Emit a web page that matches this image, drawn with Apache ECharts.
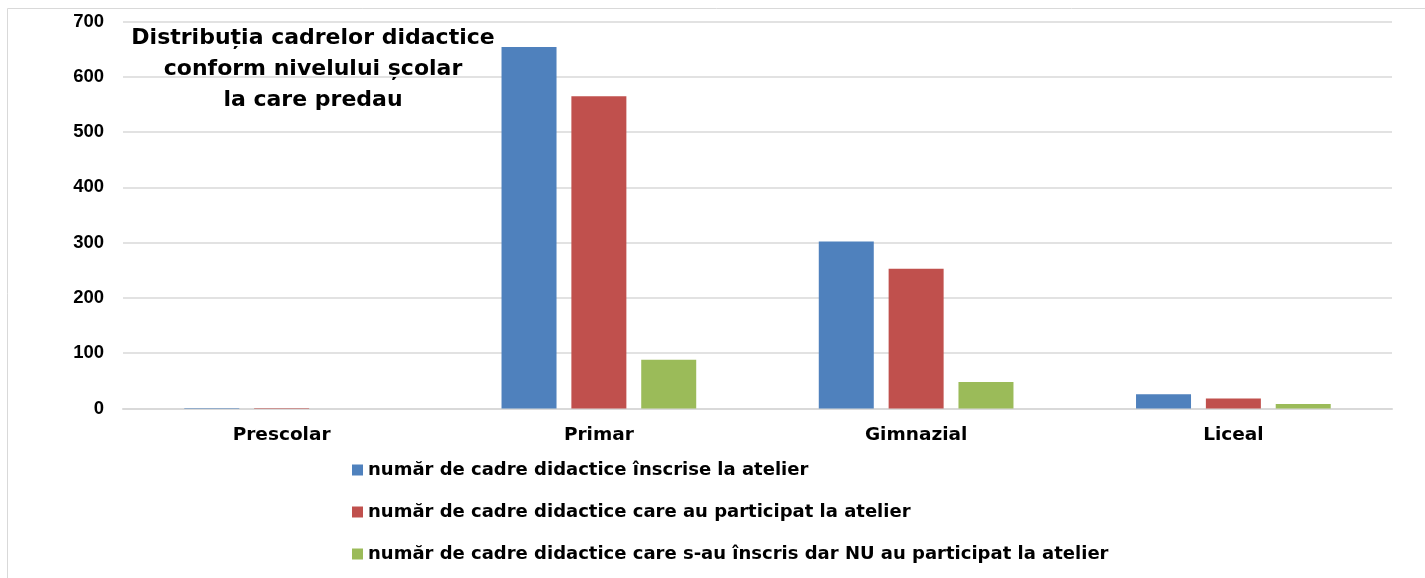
<!DOCTYPE html>
<html>
<head>
<meta charset="utf-8">
<script src="https://cdn.jsdelivr.net/npm/echarts@6/dist/echarts.min.js"></script>
<style>
    body { margin: 0; background: #fff; }
    #main { width: 1425px; height: 578px; }
</style>
</head>
<body>
<div id="main"></div>
<script>
const categories = ['Prescolar', 'Primar', 'Gimnazial', 'Liceal']
const inscrise = [1, 654, 302, 26]
const participat = [1, 565, 253, 18]
const neparticipat = [0, 88, 48, 8]
const seriesNames = [
    'număr de cadre didactice înscrise la atelier',
    'număr de cadre didactice care au participat la atelier',
    'număr de cadre didactice care s-au înscris dar NU au participat la atelier',
]
const colors = ['#4F81BD', '#C0504D', '#9BBB59']

const font = 'DejaVu Sans, Arial, sans-serif'
const numFont = 'Liberation Sans, Arial, sans-serif'

const bar = (name, data, color) => ({
    name: name,
    type: 'bar',
    data: data,
    barWidth: 55,
    barGap: '27%',
    itemStyle: { color: color },
})

let chart = echarts.init(document.querySelector('#main'))
let option = {
    animation: false,
    textStyle: { fontFamily: font },
    graphic: [
        {
            type: 'rect',
            shape: { x: 7.5, y: 8.5, width: 1430, height: 600 },
            style: { fill: 'none', stroke: '#d9d9d9', lineWidth: 1 },
            z: -1,
        },
    ],
    title: {
        text: 'Distribuția cadrelor didactice\nconform nivelului școlar\nla care predau',
        left: 308,
        top: 18,
        textAlign: 'center',
        textStyle: {
            fontFamily: font,
            fontSize: 22,
            fontWeight: 'bold',
            color: '#000',
            lineHeight: 31,
        },
    },
    legend: {
        orient: 'vertical',
        left: 347,
        top: 456,
        itemWidth: 11,
        itemHeight: 11,
        itemGap: 24,
        icon: 'rect',
        data: seriesNames,
        textStyle: {
            fontFamily: font,
            fontSize: 18,
            fontWeight: 'bold',
            color: '#000',
        },
    },
    grid: {
        left: 123,
        right: 33,
        top: 21.5,
        bottom: 169.5,
    },
    xAxis: {
        type: 'category',
        data: categories,
        axisLine: { lineStyle: { color: '#d9d9d9', width: 2 } },
        axisTick: { show: false },
        axisLabel: {
            margin: 17,
            fontFamily: font,
            fontSize: 18.5,
            fontWeight: 'bold',
            color: '#000',
        },
    },
    yAxis: {
        type: 'value',
        min: 0,
        max: 700,
        interval: 100,
        axisLine: { show: false },
        axisTick: { show: false },
        splitLine: { lineStyle: { color: '#d9d9d9', width: 1.5 } },
        axisLabel: {
            margin: 19,
            fontFamily: numFont,
            fontSize: 18.5,
            fontWeight: 'bold',
            color: '#000',
        },
    },
    series: [
        bar(seriesNames[0], inscrise, colors[0]),
        bar(seriesNames[1], participat, colors[1]),
        bar(seriesNames[2], neparticipat, colors[2]),
    ],
}
chart.setOption(option)
</script>
</body>
</html>
